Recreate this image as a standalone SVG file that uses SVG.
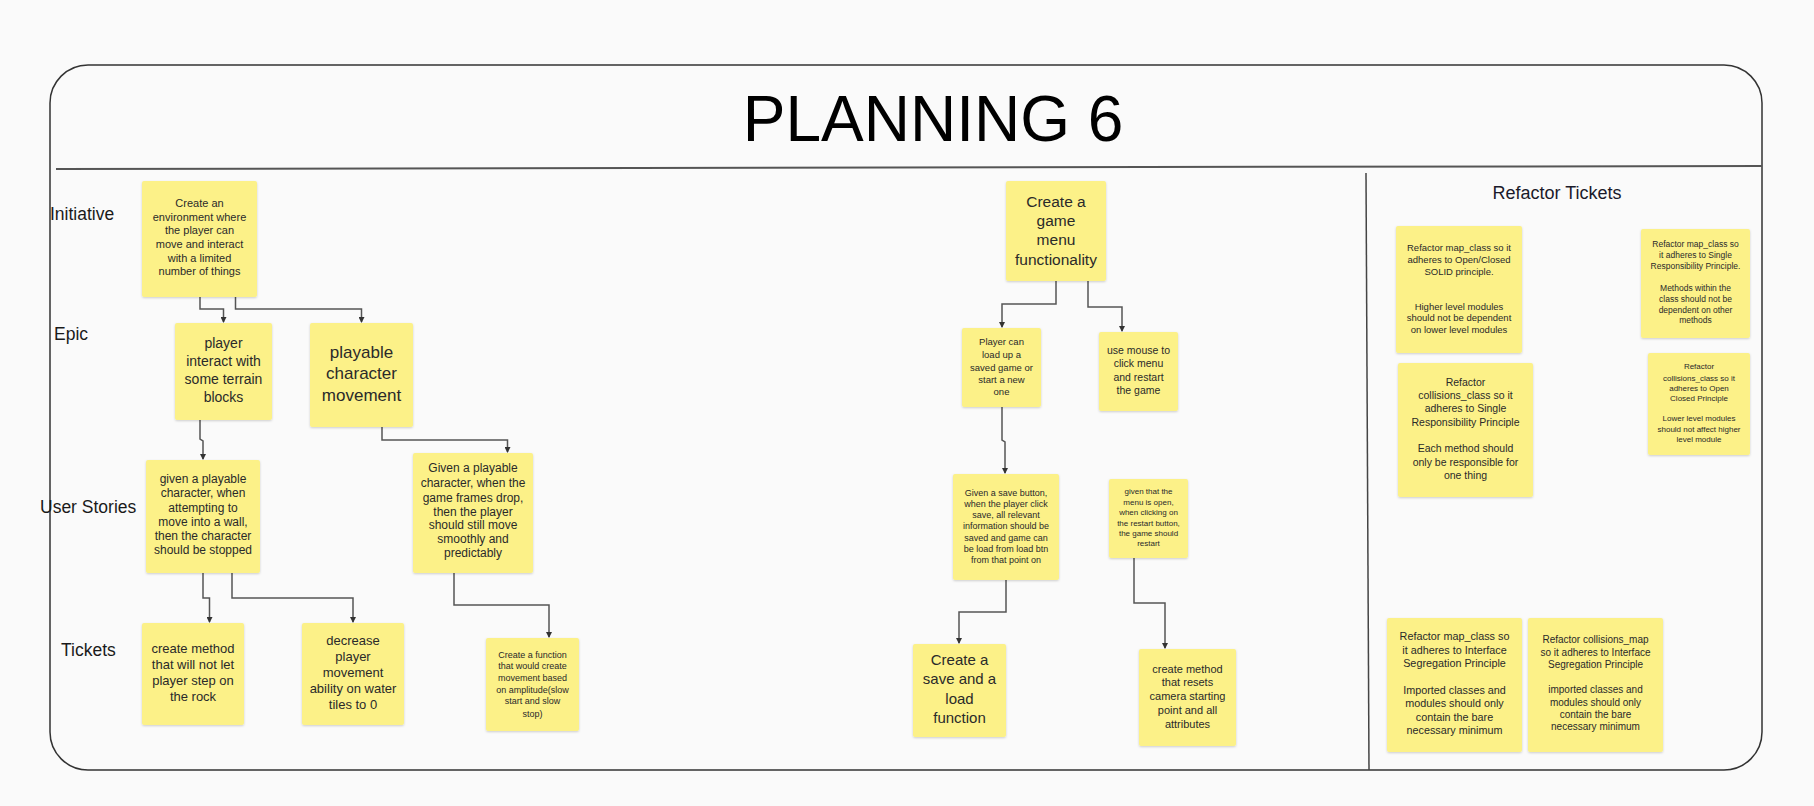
<svg xmlns="http://www.w3.org/2000/svg" width="1814" height="806" viewBox="0 0 1814 806">
<defs>
<style>
.bg{fill:#fafafa}
.frame{fill:none;stroke:#333;stroke-width:1.5}
.div{stroke:#555;stroke-width:2}
.note{fill:#fcf188;filter:url(#sh)}
.t{font-family:"Liberation Sans",Arial,sans-serif;fill:#2a2a2a;text-anchor:middle}
.lbl{font-family:"Liberation Sans",Arial,sans-serif;fill:#1a1a1a;font-size:17.5px}
.c{fill:none;stroke:#555;stroke-width:1.5}
</style>
<filter id="sh" x="-10%" y="-10%" width="120%" height="120%">
<feDropShadow dx="0" dy="1" stdDeviation="1.2" flood-color="#000" flood-opacity="0.18"/>
</filter>
<marker id="ar" markerWidth="6" markerHeight="6" refX="5" refY="3" orient="auto" markerUnits="userSpaceOnUse">
<path d="M0,0 L6,3 L0,6 z" fill="#333"/>
</marker>
</defs>
<rect class="bg" x="0" y="0" width="1814" height="806"/>
<rect class="frame" x="50" y="65" width="1712" height="705" rx="38" ry="38"/>
<line class="div" x1="56" y1="169" x2="1762" y2="166"/>
<line class="div" x1="1366" y1="173" x2="1369" y2="770" style="stroke-width:1.5;stroke:#444"/>
<text x="933" y="141" style="font-family:'Liberation Sans',Arial,sans-serif;font-size:64px;fill:#000;text-anchor:middle">PLANNING 6</text>
<text x="1557" y="199" style="font-family:'Liberation Sans',Arial,sans-serif;font-size:18px;fill:#1a1a2a;text-anchor:middle">Refactor Tickets</text>
<text class="lbl" x="50" y="220">Initiative</text>
<text class="lbl" x="54" y="340">Epic</text>
<text class="lbl" x="40" y="513">User Stories</text>
<text class="lbl" x="61" y="656">Tickets</text>

<g id="connectors">
<path class="c" d="M200,297 V309 H223.5 V322" marker-end="url(#ar)"/>
<path class="c" d="M235.5,297 V309 H361.5 V322" marker-end="url(#ar)"/>
<path class="c" d="M200,420 V439 L203,441 V459" marker-end="url(#ar)"/>
<path class="c" d="M382,427 V440 H507.5 V452" marker-end="url(#ar)"/>
<path class="c" d="M203,573 V598 H209.5 V622" marker-end="url(#ar)"/>
<path class="c" d="M232,573 V598 H353 V622" marker-end="url(#ar)"/>
<path class="c" d="M454,573 V605 H549 V637" marker-end="url(#ar)"/>
<path class="c" d="M1056,281 V304 H1002 V327" marker-end="url(#ar)"/>
<path class="c" d="M1088,281 V307 H1122 V331" marker-end="url(#ar)"/>
<path class="c" d="M1002,407 V440 L1005,442 V473" marker-end="url(#ar)"/>
<path class="c" d="M1006,580 V612 H959 V643" marker-end="url(#ar)"/>
<path class="c" d="M1134,558 V603 H1165 V648" marker-end="url(#ar)"/>
</g>

<g id="n1"><rect class="note" x="142" y="181" width="115" height="116" rx="2"/>
<text class="t" style="font-size:11px"><tspan x="199.5" y="207">Create an</tspan><tspan x="199.5" y="221">environment where</tspan><tspan x="199.5" y="234">the player can</tspan><tspan x="199.5" y="248">move and interact</tspan><tspan x="199.5" y="262">with a limited</tspan><tspan x="199.5" y="275">number of things</tspan></text></g>

<g id="n2"><rect class="note" x="175" y="323" width="97" height="97" rx="2"/>
<text class="t" style="font-size:14px"><tspan x="223.5" y="348">player</tspan><tspan x="223.5" y="366">interact with</tspan><tspan x="223.5" y="384">some terrain</tspan><tspan x="223.5" y="402">blocks</tspan></text></g>

<g id="n3"><rect class="note" x="310" y="323" width="103" height="104" rx="2"/>
<text class="t" style="font-size:17px"><tspan x="361.5" y="358">playable</tspan><tspan x="361.5" y="379">character</tspan><tspan x="361.5" y="401">movement</tspan></text></g>

<g id="n4"><rect class="note" x="146" y="460" width="114" height="113" rx="2"/>
<text class="t" style="font-size:12px"><tspan x="203" y="483">given a playable</tspan><tspan x="203" y="497">character, when</tspan><tspan x="203" y="512">attempting to</tspan><tspan x="203" y="526">move into a wall,</tspan><tspan x="203" y="540">then the character</tspan><tspan x="203" y="554">should be stopped</tspan></text></g>

<g id="n5"><rect class="note" x="413" y="453" width="120" height="120" rx="2"/>
<text class="t" style="font-size:12px"><tspan x="473" y="472">Given a playable</tspan><tspan x="473" y="487">character, when the</tspan><tspan x="473" y="502">game frames drop,</tspan><tspan x="473" y="516">then the player</tspan><tspan x="473" y="529">should still move</tspan><tspan x="473" y="543">smoothly and</tspan><tspan x="473" y="557">predictably</tspan></text></g>

<g id="n6"><rect class="note" x="142" y="623" width="102" height="102" rx="2"/>
<text class="t" style="font-size:13px"><tspan x="193" y="653">create method</tspan><tspan x="193" y="669">that will not let</tspan><tspan x="193" y="685">player step on</tspan><tspan x="193" y="701">the rock</tspan></text></g>

<g id="n7"><rect class="note" x="302" y="623" width="102" height="102" rx="2"/>
<text class="t" style="font-size:13px"><tspan x="353" y="645">decrease</tspan><tspan x="353" y="661">player</tspan><tspan x="353" y="677">movement</tspan><tspan x="353" y="693">ability on water</tspan><tspan x="353" y="709">tiles to 0</tspan></text></g>

<g id="n8"><rect class="note" x="486" y="638" width="93" height="93" rx="2"/>
<text class="t" style="font-size:9px"><tspan x="532.5" y="658">Create a function</tspan><tspan x="532.5" y="669">that would create</tspan><tspan x="532.5" y="681">movement based</tspan><tspan x="532.5" y="693">on amplitude(slow</tspan><tspan x="532.5" y="704">start and slow</tspan><tspan x="532.5" y="717">stop)</tspan></text></g>

<g id="n9"><rect class="note" x="1006" y="181" width="100" height="100" rx="2"/>
<text class="t" style="font-size:15.5px"><tspan x="1056" y="207">Create a</tspan><tspan x="1056" y="226">game</tspan><tspan x="1056" y="245">menu</tspan><tspan x="1056" y="265">functionality</tspan></text></g>

<g id="n10"><rect class="note" x="962" y="328" width="79" height="79" rx="2"/>
<text class="t" style="font-size:9.5px"><tspan x="1001.5" y="345">Player can</tspan><tspan x="1001.5" y="358">load up a</tspan><tspan x="1001.5" y="371">saved game or</tspan><tspan x="1001.5" y="383">start a new</tspan><tspan x="1001.5" y="395">one</tspan></text></g>

<g id="n11"><rect class="note" x="1099" y="332" width="79" height="79" rx="2"/>
<text class="t" style="font-size:10.5px"><tspan x="1138.5" y="354">use mouse to</tspan><tspan x="1138.5" y="367">click menu</tspan><tspan x="1138.5" y="381">and restart</tspan><tspan x="1138.5" y="394">the game</tspan></text></g>

<g id="n12"><rect class="note" x="953" y="474" width="106" height="106" rx="2"/>
<text class="t" style="font-size:9px"><tspan x="1006" y="496">Given a save button,</tspan><tspan x="1006" y="507">when the player click</tspan><tspan x="1006" y="518">save, all relevant</tspan><tspan x="1006" y="529">information should be</tspan><tspan x="1006" y="541">saved and game can</tspan><tspan x="1006" y="552">be load from load btn</tspan><tspan x="1006" y="563">from that point on</tspan></text></g>

<g id="n13"><rect class="note" x="1109" y="479" width="79" height="79" rx="2"/>
<text class="t" style="font-size:8px"><tspan x="1148.5" y="494">given that the</tspan><tspan x="1148.5" y="505">menu is open,</tspan><tspan x="1148.5" y="515">when clicking on</tspan><tspan x="1148.5" y="526">the restart button,</tspan><tspan x="1148.5" y="536">the game should</tspan><tspan x="1148.5" y="546">restart</tspan></text></g>

<g id="n14"><rect class="note" x="913" y="644" width="93" height="93" rx="2"/>
<text class="t" style="font-size:15px"><tspan x="959.5" y="665">Create a</tspan><tspan x="959.5" y="684">save and a</tspan><tspan x="959.5" y="704">load</tspan><tspan x="959.5" y="723">function</tspan></text></g>

<g id="n15"><rect class="note" x="1139" y="649" width="97" height="97" rx="2"/>
<text class="t" style="font-size:11px"><tspan x="1187.5" y="673">create method</tspan><tspan x="1187.5" y="686">that resets</tspan><tspan x="1187.5" y="700">camera starting</tspan><tspan x="1187.5" y="714">point and  all</tspan><tspan x="1187.5" y="728">attributes</tspan></text></g>

<g id="r1"><rect class="note" x="1396" y="226" width="126" height="127" rx="2"/>
<text class="t" style="font-size:9.5px"><tspan x="1459" y="251">Refactor map_class so it</tspan><tspan x="1459" y="263">adheres to Open/Closed</tspan><tspan x="1459" y="275">SOLID principle.</tspan><tspan x="1459" y="310">Higher level modules</tspan><tspan x="1459" y="321">should not be dependent</tspan><tspan x="1459" y="333">on lower level modules</tspan></text></g>

<g id="r2"><rect class="note" x="1641" y="229" width="109" height="109" rx="2"/>
<text class="t" style="font-size:8.5px"><tspan x="1695.5" y="247">Refactor map_class so</tspan><tspan x="1695.5" y="258">it adheres to Single</tspan><tspan x="1695.5" y="269">Responsibility Principle.</tspan><tspan x="1695.5" y="291">Methods within the</tspan><tspan x="1695.5" y="302">class should not be</tspan><tspan x="1695.5" y="313">dependent on other</tspan><tspan x="1695.5" y="323">methods</tspan></text></g>

<g id="r3"><rect class="note" x="1398" y="363" width="135" height="134" rx="2"/>
<text class="t" style="font-size:10.5px"><tspan x="1465.5" y="386">Refactor</tspan><tspan x="1465.5" y="399">collisions_class so it</tspan><tspan x="1465.5" y="412">adheres to Single</tspan><tspan x="1465.5" y="426">Responsibility Principle</tspan><tspan x="1465.5" y="452">Each method should</tspan><tspan x="1465.5" y="466">only be responsible for</tspan><tspan x="1465.5" y="479">one thing</tspan></text></g>

<g id="r4"><rect class="note" x="1648" y="353" width="102" height="102" rx="2"/>
<text class="t" style="font-size:8px"><tspan x="1699" y="369">Refactor</tspan><tspan x="1699" y="381">collisions_class so it</tspan><tspan x="1699" y="391">adheres to Open</tspan><tspan x="1699" y="401">Closed Principle</tspan><tspan x="1699" y="421">Lower level modules</tspan><tspan x="1699" y="432">should not affect higher</tspan><tspan x="1699" y="442">level module</tspan></text></g>

<g id="r5"><rect class="note" x="1387" y="618" width="135" height="134" rx="2"/>
<text class="t" style="font-size:10.8px"><tspan x="1454.5" y="640">Refactor map_class so</tspan><tspan x="1454.5" y="654">it adheres to Interface</tspan><tspan x="1454.5" y="667">Segregation Principle</tspan><tspan x="1454.5" y="694">Imported classes and</tspan><tspan x="1454.5" y="707">modules should only</tspan><tspan x="1454.5" y="721">contain the bare</tspan><tspan x="1454.5" y="734">necessary minimum</tspan></text></g>

<g id="r6"><rect class="note" x="1528" y="618" width="135" height="134" rx="2"/>
<text class="t" style="font-size:10px"><tspan x="1595.5" y="643">Refactor collisions_map</tspan><tspan x="1595.5" y="656">so it adheres to Interface</tspan><tspan x="1595.5" y="668">Segregation Principle</tspan><tspan x="1595.5" y="693">imported classes and</tspan><tspan x="1595.5" y="706">modules should only</tspan><tspan x="1595.5" y="718">contain the bare</tspan><tspan x="1595.5" y="730">necessary minimum</tspan></text></g>
</svg>
